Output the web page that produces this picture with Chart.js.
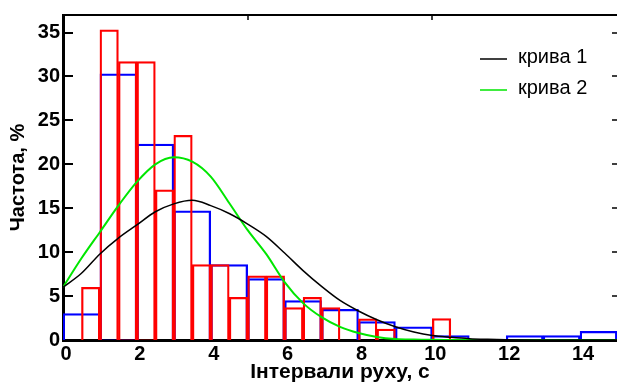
<!DOCTYPE html>
<html>
<head>
<meta charset="utf-8">
<script src="https://cdn.jsdelivr.net/npm/chart.js@4.4.0/dist/chart.umd.min.js"></script>
<style>
html,body{margin:0;padding:0;background:#fff;}
#wrap{width:617px;height:383px;position:relative;}
</style>
</head>
<body>
<div id="wrap"><canvas id="c" width="617" height="383"></canvas></div>
<script>
// ---- data ----
const blueEdges = [0,1,2,3,4,5,6,7,8,9,10,11,12,13,14,15];
const blueValues = [3.0,30.3,22.3,14.7,8.6,7.0,4.5,3.5,2.1,1.5,0.5,0,0.5,0.5,1.0];

const redEdges = [0,0.5,1,1.5,2,2.5,3,3.5,4,4.5,5,5.5,6,6.5,7,7.5,8,8.5,9,9.5,10,10.5,11];
const redValues = [0,6.0,35.3,31.7,31.7,17.1,23.3,8.6,8.6,4.85,7.3,7.3,3.7,4.85,3.7,0,2.4,1.25,0,0,2.45,0];

const curveX = [0,0.5,1,1.5,2,2.5,3,3.5,4,4.5,5,5.5,6,6.5,7,7.5,8,8.5,9,9.5,10,10.5,11,11.5,12,13,14,15];
const curve1 = [6.0,7.6,9.8,11.6,13.1,14.6,15.5,15.9,15.3,14.4,13.2,11.8,9.9,7.9,6.1,4.5,3.3,2.3,1.5,0.9,0.5,0.3,0.15,0.08,0.04,0.01,0,0];
const curve2 = [6.0,9.3,12.3,15.3,18.0,20.0,20.8,20.3,18.6,15.6,12.5,9.8,6.6,4.2,2.6,1.5,0.8,0.35,0.12,0.05,0.02,0.01,0,0,0,0,0,0];

const legendLabels = ['крива 1','крива 2'];
const xTitle = 'Інтервали руху, с';
const yTitle = 'Частота, %';
const xTickStep = 2;
const yTickStep = 5;
const topTickValues = [5,10];

// ---- helpers ----
function binsToPoints(edges, values){
  const pts = [];
  for (let i = 0; i < values.length; i++) {
    pts.push({x:(edges[i]+edges[i+1])/2, y: values[i] > 0 ? values[i] : null});
  }
  return pts;
}
function curvePoints(xs, ys){ return xs.map((x,i)=>({x:x, y:ys[i]})); }
// bar width in pixels = width of one bin on the library's x scale
function binWidth(edges){
  return (ctx)=>{
    const s = ctx.chart.scales.x;
    if (!s) return undefined;
    return Math.abs(s.getPixelForValue(edges[1]) - s.getPixelForValue(edges[0]));
  };
}

const FONT = "'Liberation Sans', Arial, sans-serif";
const GREEN = 'rgb(0,230,0)';

const framePlugin = {
  id: 'frame',
  afterDraw(chart){
    const {ctx, chartArea:a, scales:{x,y}} = chart;
    ctx.save();
    ctx.strokeStyle = '#000';
    ctx.lineWidth = 2;
    ctx.beginPath();
    ctx.moveTo(a.left, a.top); ctx.lineTo(a.right, a.top);
    ctx.stroke();
    ctx.beginPath();
    y.ticks.forEach(t=>{ const py = Math.round(y.getPixelForValue(t.value)); if (t.value>0){ ctx.moveTo(a.left, py); ctx.lineTo(a.left+10, py);} });
    ctx.stroke();
    ctx.lineWidth = 1.5;
    ctx.beginPath();
    y.ticks.forEach(t=>{ const py = Math.round(y.getPixelForValue(t.value)); if (t.value>0){ ctx.moveTo(a.right, py); ctx.lineTo(a.right-5, py);} });
    topTickValues.forEach(v=>{ const px = Math.round(x.getPixelForValue(v)); ctx.moveTo(px, a.top); ctx.lineTo(px, a.top+5); });
    ctx.stroke();
    ctx.restore();
  }
};

const legendPlugin = {
  id: 'curveLegend',
  afterDraw(chart){
    const ctx = chart.ctx;
    const a = chart.chartArea;
    const sets = chart.data.datasets.filter(d=>d.type==='line');
    ctx.save();
    ctx.font = '20px ' + FONT;
    ctx.fillStyle = '#000';
    ctx.textBaseline = 'alphabetic';
    ctx.textAlign = 'left';
    sets.forEach((d,i)=>{
      const yLine = a.top + 44 + i*31;
      ctx.strokeStyle = d.borderColor;
      ctx.lineWidth = 1.5;
      ctx.beginPath();
      ctx.moveTo(a.right-137, yLine); ctx.lineTo(a.right-110, yLine);
      ctx.stroke();
      ctx.fillText(d.label, a.right-99, yLine+3.5);
    });
    ctx.restore();
  }
};

new Chart(document.getElementById('c'), {
  type: 'bar',
  data: {
    datasets: [
      {type:'line', label: legendLabels[0], data: curvePoints(curveX, curve1), xAxisID:'x', yAxisID:'y',
       borderColor:'#000', backgroundColor:'#000', borderWidth:1.5, pointRadius:0, cubicInterpolationMode:'monotone', fill:false, order:0},
      {type:'line', label: legendLabels[1], data: curvePoints(curveX, curve2), xAxisID:'x', yAxisID:'y',
       borderColor:GREEN, backgroundColor:GREEN, borderWidth:2, pointRadius:0, cubicInterpolationMode:'monotone', fill:false, order:1},
      {type:'bar', label:'red', data: binsToPoints(redEdges, redValues), xAxisID:'x', yAxisID:'y',
       borderColor:'#ff0000', backgroundColor:'rgba(0,0,0,0)', borderWidth:1.6, borderSkipped:'start',
       grouped:false, barThickness: binWidth(redEdges), order:2},
      {type:'bar', label:'blue', data: binsToPoints(blueEdges, blueValues), xAxisID:'x', yAxisID:'y',
       borderColor:'#0000ff', backgroundColor:'rgba(0,0,0,0)', borderWidth:1.6, borderSkipped:'start',
       grouped:false, barThickness: binWidth(blueEdges), order:3}
    ]
  },
  options: {
    responsive:false,
    animation:false,
    devicePixelRatio:1,
    layout:{padding:{top:13,right:0,bottom:0,left:0}},
    plugins:{legend:{display:false}, tooltip:{enabled:false}},
    scales:{
      x:{type:'linear', position:'bottom', min:0, max:15, offset:false, z:1,
         grid:{display:false, drawTicks:false, offset:false},
         border:{display:true, width:3, color:'#000'},
         ticks:{stepSize:xTickStep, includeBounds:false, autoSkip:false, maxRotation:0, padding:2, labelOffset:3,
                color:'#000', font:{family:FONT, size:20, weight:'bold'}},
         title:{display:true, text:xTitle, color:'#000', font:{family:FONT, size:21, weight:'bold', lineHeight:1.05}, padding:{top:0,bottom:0}},
         afterFit(s){ s.height = 43; }
      },
      y:{type:'linear', position:'left', min:0, max:37, z:1,
         grid:{display:false, drawTicks:false},
         border:{display:true, width:3, color:'#000'},
         ticks:{stepSize:yTickStep, includeBounds:false, padding:3, color:'#000', font:{family:FONT, size:20, weight:'bold'}},
         title:{display:true, text:yTitle, color:'#000', font:{family:FONT, size:20, weight:'bold'}, padding:{top:6,bottom:0}},
         afterFit(s){ s.width = 63; }
      }
    }
  },
  plugins:[framePlugin, legendPlugin]
});
</script>
</body>
</html>
